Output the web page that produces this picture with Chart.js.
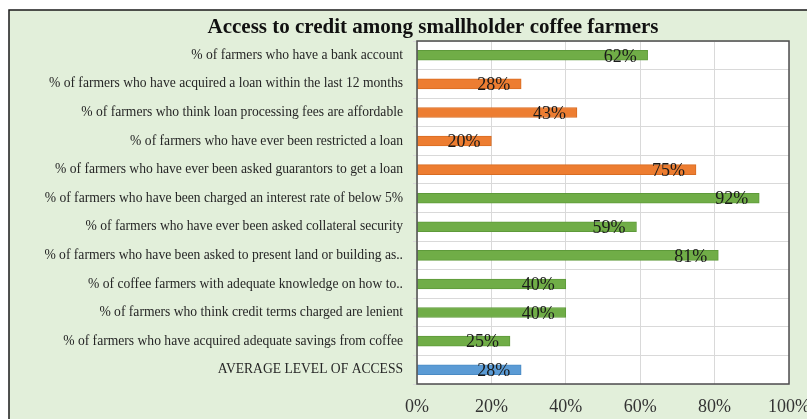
<!DOCTYPE html>
<html>
<head>
<meta charset="utf-8">
<script src="https://cdn.jsdelivr.net/npm/chart.js@4.4.1/dist/chart.umd.min.js"></script>
<style>
  html, body { margin: 0; padding: 0; background: #ffffff; }
  #wrap { width: 807px; height: 419px; }
</style>
</head>
<body>
<div id="wrap"><canvas id="c" width="807" height="419"></canvas></div>
<script>
const chartTitle = "Access to credit among smallholder coffee farmers";
const categories = [
  "% of farmers who have a bank account",
  "% of farmers who have acquired a loan within the last 12 months",
  "% of farmers who think loan processing fees are affordable",
  "% of farmers who have ever been restricted a loan",
  "% of farmers who have ever been asked guarantors to get a loan",
  "% of farmers who have been charged an interest rate of below 5%",
  "% of farmers who have ever been asked collateral security",
  "% of farmers who have been asked to present land or building as..",
  "% of coffee farmers with adequate knowledge on how to..",
  "% of farmers who think credit terms charged are lenient",
  "% of farmers who have acquired adequate savings from coffee",
  "AVERAGE LEVEL OF ACCESS"
];
const values = [62, 28, 43, 20, 75, 92, 59, 81, 40, 40, 25, 28];
const groups = ["g", "o", "o", "o", "o", "g", "g", "g", "g", "g", "g", "b"];
const xTicks = [0, 20, 40, 60, 80, 100];

const fillColors = { g: "#70ad47", o: "#ed7d31", b: "#5b9bd5" };
const edgeColors = { g: "#5e9a3a", o: "#d86c22", b: "#4a8ac4" };
const SERIF = "'Liberation Serif', 'Times New Roman', serif";

const bgPlugin = {
  id: "bg",
  beforeDraw(chart) {
    const ctx = chart.ctx, a = chart.chartArea;
    ctx.save();
    ctx.fillStyle = "#ffffff";
    ctx.fillRect(0, 0, chart.width, chart.height);
    ctx.fillStyle = "#e2efda";
    ctx.fillRect(9, 10, chart.width + 20, chart.height + 20);
    ctx.strokeStyle = "#1a1a1a";
    ctx.lineWidth = 1.5;
    ctx.strokeRect(9, 10, chart.width + 20, chart.height + 20);
    ctx.fillStyle = "#ffffff";
    ctx.fillRect(a.left, a.top, a.right - a.left, a.bottom - a.top);
    ctx.fillStyle = "#111111";
    ctx.font = "bold 21px " + SERIF;
    ctx.textAlign = "center";
    ctx.textBaseline = "alphabetic";
    ctx.fillText(chartTitle, 433, 33);
    ctx.restore();
  },
  afterDatasetsDraw(chart) {
    const ctx = chart.ctx, a = chart.chartArea;
    ctx.save();
    ctx.strokeStyle = "#4d4d4d";
    ctx.lineWidth = 1.5;
    ctx.strokeRect(a.left, a.top, a.right - a.left, a.bottom - a.top);
    const meta = chart.getDatasetMeta(0);
    ctx.fillStyle = "#1a1a1a";
    ctx.font = "18px " + SERIF;
    ctx.textAlign = "right";
    ctx.textBaseline = "middle";
    meta.data.forEach((bar, i) => {
      ctx.fillText(values[i] + "%", bar.x - 11, bar.y + 1.5);
    });
    ctx.restore();
  }
};

new Chart(document.getElementById("c"), {
  type: "bar",
  data: {
    labels: categories,
    datasets: [{
      data: values,
      backgroundColor: groups.map(g => fillColors[g]),
      borderColor: groups.map(g => edgeColors[g]),
      borderWidth: 1,
      borderSkipped: false,
      barThickness: 10
    }]
  },
  options: {
    indexAxis: "y",
    responsive: false,
    animation: false,
    devicePixelRatio: 1,
    layout: { padding: { left: 9, right: 18, top: 41, bottom: 0 } },
    plugins: {
      legend: { display: false },
      tooltip: { enabled: false },
      title: { display: false }
    },
    scales: {
      x: {
        min: 0, max: 100,
        afterBuildTicks(scale) { scale.ticks = xTicks.map(v => ({ value: v })); },
        afterFit(scale) {
          scale.height = 35;
          scale.paddingLeft = 0; scale.paddingRight = 0;
        },
        grid: { color: "#d9d9d9", lineWidth: 1, drawTicks: false },
        border: { display: false },
        ticks: {
          padding: 12,
          color: "#333333",
          maxRotation: 0,
          font: { family: SERIF, size: 18 },
          callback: v => v + "%"
        }
      },
      y: {
        afterFit(scale) {
          scale.width = 408;
          scale.paddingTop = 0; scale.paddingBottom = 0;
        },
        grid: { color: "#d9d9d9", lineWidth: 1, offset: true, drawTicks: true, tickLength: 4 },
        border: { display: false },
        ticks: {
          padding: 10,
          color: "#262626",
          autoSkip: false,
          font: { family: SERIF, size: 13.6 }
        }
      }
    }
  },
  plugins: [bgPlugin]
});
</script>
</body>
</html>
